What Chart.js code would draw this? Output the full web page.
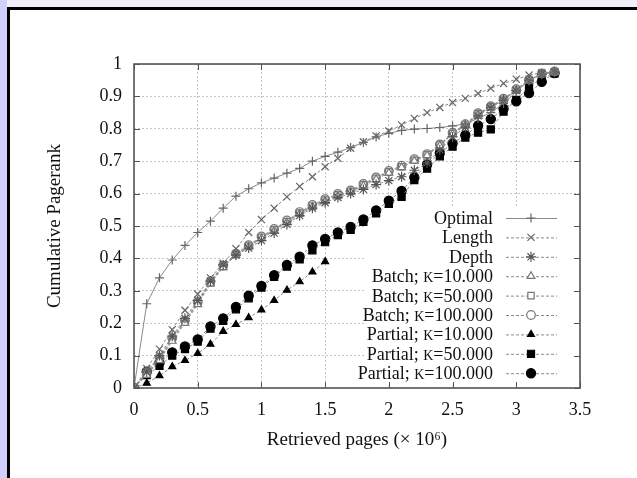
<!DOCTYPE html>
<html>
<head>
<meta charset="utf-8">
<script src="https://cdn.jsdelivr.net/npm/chart.js@4.4.1/dist/chart.umd.min.js"></script>
<style>
  html, body { margin: 0; padding: 0; }
  body { width: 637px; height: 478px; position: relative; overflow: hidden; background: #f0f0fb; }
  #leftStrip { position: absolute; left: 0; top: 0; width: 7px; height: 478px; background: #d0d0fa; }
  #frame { position: absolute; left: 7px; top: 7px; width: 700px; height: 600px; background: #fff; border-left: 3px solid #000; border-top: 3px solid #000; box-sizing: border-box; }
  #c { position: absolute; left: 0; top: 0; }
</style>
</head>
<body>
<div id="leftStrip"></div>
<div id="frame"></div>
<canvas id="c" width="637" height="478"></canvas>
<script>
// ---- data (x in millions of retrieved pages) ----
const xPages = [0,0.1,0.2,0.3,0.4,0.5,0.6,0.7,0.8,0.9,1.0,1.1,1.2,1.3,1.4,1.5,1.6,1.7,1.8,1.9,2.0,2.1,2.2,2.3,2.4,2.5,2.6,2.7,2.8,2.9,3.0,3.1,3.2,3.3];
const xPartial10 = [0,0.1,0.2,0.3,0.4,0.5,0.6,0.7,0.8,0.9,1.0,1.1,1.2,1.3,1.4,1.5];

const optimal   = [0,0.26,0.34,0.395,0.44,0.48,0.515,0.555,0.592,0.615,0.633,0.648,0.663,0.678,0.70,0.715,0.728,0.742,0.758,0.775,0.786,0.795,0.799,0.801,0.804,0.809,0.815,0.832,0.85,0.878,0.914,0.951,0.969,0.973];
const length    = [0,0.06,0.12,0.18,0.24,0.29,0.34,0.385,0.43,0.48,0.52,0.555,0.59,0.622,0.652,0.683,0.709,0.74,0.76,0.778,0.793,0.812,0.832,0.85,0.866,0.881,0.894,0.909,0.925,0.94,0.953,0.966,0.973,0.976];
const depth     = [0,0.05,0.10,0.16,0.215,0.27,0.33,0.38,0.41,0.432,0.455,0.478,0.505,0.532,0.555,0.572,0.588,0.60,0.613,0.628,0.64,0.652,0.672,0.695,0.735,0.775,0.805,0.84,0.865,0.888,0.918,0.948,0.968,0.975];
const batch10   = [0,0.04,0.085,0.145,0.20,0.258,0.322,0.372,0.41,0.436,0.462,0.485,0.511,0.537,0.559,0.577,0.593,0.605,0.624,0.644,0.664,0.681,0.701,0.718,0.748,0.784,0.81,0.844,0.866,0.889,0.918,0.949,0.969,0.975];
const batch50   = [0,0.045,0.09,0.15,0.205,0.262,0.325,0.375,0.412,0.438,0.465,0.488,0.514,0.54,0.562,0.58,0.596,0.607,0.627,0.647,0.667,0.683,0.703,0.72,0.75,0.786,0.812,0.846,0.868,0.891,0.92,0.95,0.97,0.976];
const batch100  = [0,0.048,0.094,0.154,0.208,0.265,0.328,0.378,0.415,0.441,0.468,0.491,0.517,0.543,0.565,0.583,0.599,0.61,0.63,0.65,0.67,0.686,0.706,0.722,0.752,0.788,0.814,0.848,0.87,0.893,0.922,0.952,0.971,0.977];
const partial10 = [0,0.015,0.038,0.066,0.085,0.107,0.135,0.175,0.196,0.217,0.241,0.27,0.302,0.328,0.358,0.39];
const partial50 = [0,0.04,0.068,0.10,0.12,0.143,0.183,0.207,0.243,0.277,0.31,0.343,0.375,0.397,0.425,0.45,0.472,0.488,0.513,0.539,0.568,0.59,0.642,0.677,0.715,0.745,0.773,0.788,0.798,0.853,0.889,0.93,0.956,0.971];
const partial100= [0,0.05,0.078,0.11,0.128,0.15,0.19,0.215,0.25,0.285,0.315,0.348,0.38,0.405,0.44,0.46,0.48,0.497,0.52,0.548,0.578,0.608,0.65,0.69,0.725,0.755,0.78,0.81,0.83,0.862,0.885,0.91,0.945,0.972];

const seriesNames = ['Optimal','Length','Depth','Batch; K=10.000','Batch; K=50.000','Batch; K=100.000','Partial; K=10.000','Partial; K=50.000','Partial; K=100.000'];
const xTickValues = [0,0.5,1,1.5,2,2.5,3,3.5];
const xTickLabels = ['0','0.5','1','1.5','2','2.5','3','3.5'];
const yTickValues = [0,0.1,0.2,0.3,0.4,0.5,0.6,0.7,0.8,0.9,1];
const yTickLabels = ['0','0.1','0.2','0.3','0.4','0.5','0.6','0.7','0.8','0.9','1'];
const xTitle = 'Retrieved pages (\u00d7 10\u2076)';
const yTitle = 'Cumulative Pagerank';

// ---- styles ----
const FONT = "'Liberation Serif', 'Times New Roman', serif";
const LINE = '#8a8a8a';
const DASH = [3, 2];
const styles = [
  { pointStyle: 'cross',    radius: 4.5, fill: '#666',  stroke: '#666', dash: [] },
  { pointStyle: 'crossRot', radius: 5,   fill: '#666',  stroke: '#666', dash: DASH },
  { pointStyle: 'star',     radius: 5,   fill: '#555',  stroke: '#555', dash: DASH },
  { pointStyle: 'triangle', radius: 4.5, fill: '#fff',  stroke: '#777', dash: DASH },
  { pointStyle: 'rect',     radius: 4.5, fill: '#fff',  stroke: '#777', dash: DASH },
  { pointStyle: 'circle',   radius: 4.3, fill: '#fff',  stroke: '#777', dash: DASH },
  { pointStyle: 'triangle', radius: 4,   fill: '#000',  stroke: '#000', dash: DASH },
  { pointStyle: 'rect',     radius: 5,   fill: '#000',  stroke: '#000', dash: DASH },
  { pointStyle: 'circle',   radius: 4.6, fill: '#000',  stroke: '#000', dash: DASH },
];

function pts(xs, ys) { return ys.map((y, i) => ({ x: xs[i], y })); }
const seriesData = [
  pts(xPages, optimal), pts(xPages, length), pts(xPages, depth),
  pts(xPages, batch10), pts(xPages, batch50), pts(xPages, batch100),
  pts(xPartial10, partial10), pts(xPages, partial50), pts(xPages, partial100)
];

const datasets = seriesData.map((d, i) => ({
  label: seriesNames[i],
  data: d,
  borderColor: LINE,
  borderWidth: 1,
  borderDash: styles[i].dash,
  pointStyle: styles[i].pointStyle,
  pointRadius: styles[i].radius,
  pointBackgroundColor: styles[i].fill,
  pointBorderColor: styles[i].stroke,
  pointBorderWidth: 1.2,
  fill: false,
  tension: 0
}));

// draw a key label right-aligned, with the "K" in small capitals
function drawKeyLabel(ctx, text, right, y) {
  const big = '18px ' + FONT, small = '14px ' + FONT;
  const k = text.indexOf('K=');
  const parts = k < 0 ? [[text, big]] : [[text.slice(0, k), big], ['K', small], [text.slice(k + 1), big]];
  let w = 0;
  parts.forEach(p => { ctx.font = p[1]; w += ctx.measureText(p[0]).width; });
  let x = right - w;
  ctx.textAlign = 'left';
  ctx.textBaseline = 'alphabetic';
  parts.forEach(p => { ctx.font = p[1]; ctx.fillText(p[0], x, y + 6); x += ctx.measureText(p[0]).width; });
}

const framePlugin = {
  id: 'framePlugin',
  beforeDatasetsDraw(chart) {
    const ctx = chart.ctx;
    const a = chart.chartArea;
    ctx.save();
    ctx.fillStyle = '#fff';
    ctx.fillRect(366, 207, a.right - 366 - 1, 178);
    const rowY0 = 218, rowDY = 19.4;
    const textRight = 493, lx0 = 506, lx1 = 557, mx = 531;
    for (let i = 0; i < seriesNames.length; i++) {
      const y = rowY0 + i * rowDY;
      ctx.fillStyle = '#111';
      drawKeyLabel(ctx, seriesNames[i], textRight, y);
      ctx.strokeStyle = LINE;
      ctx.lineWidth = 1;
      ctx.setLineDash(styles[i].dash);
      ctx.beginPath(); ctx.moveTo(lx0, y + 0.5); ctx.lineTo(lx1, y + 0.5); ctx.stroke();
      ctx.setLineDash([]);
      ctx.fillStyle = styles[i].fill;
      ctx.strokeStyle = styles[i].stroke;
      ctx.lineWidth = 1.2;
      Chart.helpers.drawPoint(ctx, { pointStyle: styles[i].pointStyle, radius: styles[i].radius, rotation: 0, borderWidth: 1.2 }, mx, y);
    }
    ctx.restore();
  },
  afterDraw(chart) {
    const ctx = chart.ctx;
    const a = chart.chartArea;
    const xs = chart.scales.x, ys = chart.scales.y;
    ctx.save();
    ctx.strokeStyle = '#555';
    ctx.lineWidth = 1;
    ctx.beginPath();
    xTickValues.forEach(v => {
      const px = Math.round(xs.getPixelForValue(v)) + 0.5;
      ctx.moveTo(px, a.bottom); ctx.lineTo(px, a.bottom - 6);
      ctx.moveTo(px, a.top); ctx.lineTo(px, a.top + 6);
    });
    yTickValues.forEach(v => {
      const py = Math.round(ys.getPixelForValue(v)) + 0.5;
      ctx.moveTo(a.left, py); ctx.lineTo(a.left + 6, py);
      ctx.moveTo(a.right, py); ctx.lineTo(a.right - 6, py);
    });
    ctx.stroke();
    ctx.strokeStyle = '#555';
    ctx.lineWidth = 1.6;
    ctx.strokeRect(a.left, a.top, a.right - a.left, a.bottom - a.top);
    ctx.fillStyle = '#111';
    ctx.font = '19px ' + FONT;
    ctx.textAlign = 'center';
    ctx.textBaseline = 'middle';
    ctx.fillText(xTitle, (a.left + a.right) / 2, 440);
    ctx.translate(55, (a.top + a.bottom) / 2);
    ctx.rotate(-Math.PI / 2);
    ctx.fillText(yTitle, 0, 0);
    ctx.restore();
  }
};

new Chart(document.getElementById('c'), {
  type: 'line',
  data: { datasets },
  options: {
    responsive: false,
    devicePixelRatio: 1,
    animation: false,
    layout: { padding: { left: 0, top: 64, right: 57, bottom: 0 } },
    plugins: { legend: { display: false }, tooltip: { enabled: false } },
    scales: {
      x: {
        type: 'linear', min: 0, max: 3.5,
        afterBuildTicks(s) { s.ticks = xTickValues.map(v => ({ value: v })); },
        afterFit(s) { s.height = 90; },
        grid: { color: '#c4c4c4', lineWidth: 1, drawTicks: false },
        border: { display: false, dash: [2, 2] },
        ticks: { padding: 11, color: '#111', font: { family: FONT, size: 18 },
                 maxRotation: 0, autoSkip: false,
                 callback: (v, i) => xTickLabels[i] }
      },
      y: {
        type: 'linear', min: 0, max: 1,
        afterBuildTicks(s) { s.ticks = yTickValues.map(v => ({ value: v })); },
        afterFit(s) { s.width = 134; },
        grid: { color: '#c4c4c4', lineWidth: 1, drawTicks: false },
        border: { display: false, dash: [2, 2] },
        ticks: { padding: 12, color: '#111', font: { family: FONT, size: 18 },
                 autoSkip: false,
                 callback: (v, i) => yTickLabels[i] }
      }
    }
  },
  plugins: [framePlugin]
});
</script>
</body>
</html>
